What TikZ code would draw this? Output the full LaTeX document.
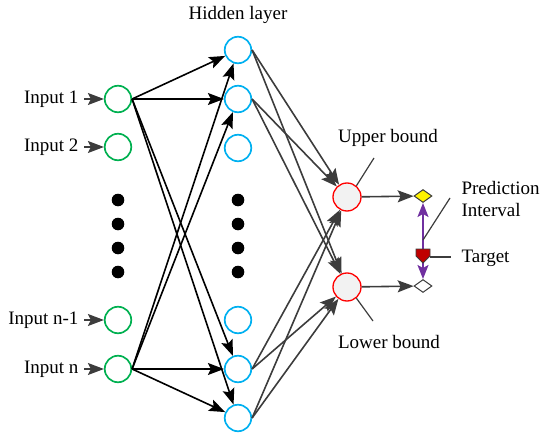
\documentclass[tikz,border=0pt]{standalone}
\usepackage{fontspec}
\setmainfont{Liberation Serif}
\newfontfamily\labfont{Liberation Serif}
\usepackage{xcolor}
\usetikzlibrary{arrows.meta,shapes.geometric,calc}

\definecolor{ingreen}{RGB}{0,176,80}
\definecolor{hidblue}{RGB}{0,176,240}
\definecolor{outred}{RGB}{255,0,0}
\definecolor{darkgry}{RGB}{60,60,60}
\definecolor{purp}{RGB}{112,48,160}
\definecolor{tred}{RGB}{192,0,0}

\tikzset{
    inp/.style={circle, draw=ingreen, line width=1.7pt, minimum size=26.5pt, inner sep=0pt},
    hid/.style={circle, draw=hidblue, line width=1.7pt, minimum size=26.5pt, inner sep=0pt},
    bnd/.style={circle, draw=outred, fill=black!5, line width=1.3pt, minimum size=28pt, inner sep=0pt},
    dia/.style={diamond, draw=darkgry, line width=1pt, minimum width=18pt, minimum height=13pt, inner sep=0pt},
    tip/.style={-{Stealth[length=16pt,width=12pt,inset=3pt]}},
    blk/.style={black, line width=1.6pt, tip},
    gry/.style={darkgry, line width=1.6pt, tip},
    lead/.style={darkgry, line width=1.2pt},
}

\begin{document}
\begin{tikzpicture}[x=1pt, y=-1pt, font=\labfont\fontsize{19}{23}\selectfont]
        \useasboundingbox (0,0) rectangle (550,439);

        % input layer
        \foreach \n/\y in {1/99, 2/147, 3/320, 4/369} {
            \node[inp] (i\n) at (118,\y) {};
        }
        \node[anchor=east] (li1) at (82,99) {Input 1};
        \node[anchor=east] (li2) at (82,147) {Input 2};
        \node[anchor=east] (li3) at (82,320) {Input n-1};
        \node[anchor=east] (li4) at (82,369) {Input n};
        \foreach \n in {1,2,3,4} {
            \draw[gry, shorten <=2pt] (li\n) -- (i\n);
        }

        % hidden layer
        \node (lh) at (238,15) {Hidden layer};
        \foreach \n/\y in {1/50, 2/99, 3/148, 4/320, 5/369, 6/418} {
            \node[hid] (h\n) at (238,\y) {};
        }

        \foreach \y in {200,224,248,272} {
            \fill (118,\y) circle (6.3);
            \fill (238,\y) circle (6.3);
        }

        % outputs
        \node[bnd] (u) at (347,197) {};
        \node[bnd] (l) at (347,287) {};
        \node (lu) at (388,138) {Upper bound};
        \node (ll) at (389,342) {Lower bound};
        \coordinate (cu) at (374,158);
        \coordinate (cl) at (373,321);
        \draw[lead] (u.50) -- (cu);
        \draw[lead] (l.-50) -- (cl);

        \foreach \s in {1,4} {
            \foreach \t in {1,2,5,6} {
                \draw[blk] (i\s.east) -- (h\t);
            }
        }
        \foreach \s in {1,2,5,6} {
            \foreach \t in {u,l} {
                \draw[gry] (h\s.east) -- (\t);
            }
        }

        % prediction interval
        \node[dia, fill=yellow] (du) at (423,196) {};
        \node[dia, fill=white] (dl) at (423,286) {};
        \draw[gry] (u) -- (du);
        \draw[gry] (l) -- (dl);
        \draw[purp, line width=1.6pt, {Stealth[length=14pt,width=11pt,inset=3pt]}-{Stealth[length=14pt,width=11pt,inset=3pt]}] (du) -- (dl);

        \coordinate (t) at (423,256);
        \filldraw[fill=tred, draw=darkgry, line width=0.8pt]
            ($(t)+(-7,-7)$) -- ($(t)+(7,-7)$) -- ($(t)+(7,0)$)
            -- ($(t)+(0,7)$) -- ($(t)+(-7,0)$) -- cycle;
        \coordinate (ct) at (451,257);
        \draw[lead] ($(t)+(7,1)$) -- (ct);
        \node[anchor=west] (lt) at (458,258) {Target};

        \coordinate (cp) at (450,198);
        \coordinate (cq) at (423,240);
        \draw[lead] (cq) -- (cp);
        \node[anchor=west, align=left] (lp) at (458,199) {Prediction\\Interval};
    \end{tikzpicture}
\end{document}
